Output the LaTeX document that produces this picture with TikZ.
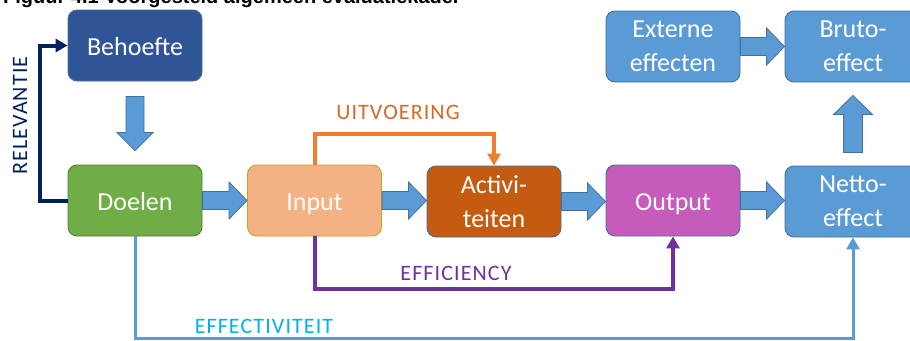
\documentclass[tikz,border=0pt]{standalone}
\usepackage{fontspec}
\setmainfont{Carlito}
\newfontfamily\titlefont{Liberation Sans}
\usetikzlibrary{arrows.meta,calc}
\definecolor{cBehoefte}{HTML}{2F5597}
\definecolor{cDoelen}{HTML}{70AD47}
\definecolor{cDoelenB}{HTML}{548235}
\definecolor{cInput}{HTML}{F4B183}
\definecolor{cInputB}{HTML}{C9A227}
\definecolor{cActiv}{HTML}{C55A11}
\definecolor{cOutput}{HTML}{C65BBB}
\definecolor{cBlue}{HTML}{5B9BD5}
\definecolor{cBlueB}{HTML}{41719C}
\definecolor{cNavy}{HTML}{002060}
\definecolor{cOrange}{HTML}{ED7D31}
\definecolor{cOrangeT}{HTML}{D46A26}
\definecolor{cPurple}{HTML}{7030A0}
\definecolor{cCyan}{HTML}{00B0F0}
\tikzset{
  box/.style={rounded corners=9pt, minimum width=134pt, minimum height=71pt,
    text=white, font=\fontsize{26}{34}\selectfont, align=center,
    line width=0.9pt, inner sep=0pt},
  oneline/.style={text height=20pt, text depth=0pt},
  twoline/.style={yshift=-1pt},
  blk/.style={fill=cBlue, draw=cBlueB, line width=0.75pt},
  lbl/.style={font=\fontsize{22}{26}\selectfont\addfontfeatures{LetterSpace=5}, inner sep=0pt},
  conn/.style={line width=4pt, -{Triangle[width=13pt,length=12pt]}}
}
\newcommand\harr[2]{\path[blk] let \p1=(#1.east), \p2=(#2.west) in
  (\x1,{\y1+9pt}) -- ({\x2-18pt},{\y1+9pt}) -- ({\x2-18pt},{\y1+18.5pt}) -- (\x2,\y1)
  -- ({\x2-18pt},{\y1-18.5pt}) -- ({\x2-18pt},{\y1-9pt}) -- (\x1,{\y1-9pt}) -- cycle;}
\newcommand\darr[2]{\path[blk] let \p1=(#1.south), \p2=(#2.north) in
  ({\x1-9pt},{\y1-15pt}) -- ({\x1-9pt},{\y2+32pt}) -- ({\x1-18pt},{\y2+32pt}) -- (\x1,{\y2+14pt})
  -- ({\x1+18pt},{\y2+32pt}) -- ({\x1+9pt},{\y2+32pt}) -- ({\x1+9pt},{\y1-15pt}) -- cycle;}
\newcommand\uarr[2]{\path[blk] let \p1=(#1.north), \p2=(#2.south) in
  ({\x1-9.5pt},{\y1+13pt}) -- ({\x1-9.5pt},{\y2-32pt}) -- ({\x1-19.5pt},{\y2-32pt}) -- (\x1,{\y2-13pt})
  -- ({\x1+19.5pt},{\y2-32pt}) -- ({\x1+9.5pt},{\y2-32pt}) -- ({\x1+9.5pt},{\y1+13pt}) -- cycle;}
\begin{document}
\begin{tikzpicture}[x=1pt,y=-1pt]
\useasboundingbox (0,0) rectangle (910,340);
\clip (0,0) rectangle (910,340);
\fill[white] (0,0) rectangle (910,340);

\node[anchor=base west, inner sep=0pt, font=\titlefont\bfseries\fontsize{20}{24}\selectfont] (title) at (3,3) {Figuur 4.1 Voorgesteld algemeen evaluatiekader};

\node[box, oneline, fill=cBehoefte, draw=cBlueB] (behoefte) at (135,45.5) {Behoefte};
\node[box, oneline, fill=cDoelen, draw=cDoelenB] (doelen) at (135,200.5) {Doelen};
\node[box, oneline, fill=cInput, draw=cInputB] (input) at (314.5,200.5) {Input};
\node[box, twoline, fill=cActiv, draw=cBlueB] (activ) at (494,200.5) {Activi-\\teiten};
\node[box, oneline, fill=cOutput, draw=cBlueB] (output) at (673,200.5) {Output};
\node[box, twoline, fill=cBlue, draw=cBlueB, minimum width=136pt] (netto) at (853,200.5) {Netto-\\effect};
\node[box, twoline, fill=cBlue, draw=cBlueB] (externe) at (673,45.5) {Externe\\effecten};
\node[box, twoline, fill=cBlue, draw=cBlueB, minimum width=136pt] (bruto) at (853,45.5) {Bruto-\\effect};

\darr{behoefte}{doelen}
\harr{doelen}{input}
\harr{input}{activ}
\harr{activ}{output}
\harr{output}{netto}
\harr{externe}{bruto}
\uarr{netto}{bruto}

\draw[conn, cNavy] (doelen.west) -- ++(-28,0) |- (behoefte.west);
\node[lbl, text=cNavy, rotate=90] (relevantie) at (20,115.5) {RELEVANTIE};

\draw[conn, cOrange] (input.north) -- ++(0,-31) -| (activ.north);
\node[lbl, text=cOrangeT] (uitvoering) at (398,112) {UITVOERING};

\draw[conn, cPurple] (input.south) -- ++(0,53) -| (output.south);
\node[lbl, text=cPurple] (efficiency) at (456,273) {EFFICIENCY};

\draw[conn, cBlue, line width=3pt] (doelen.south) -- ++(0,102) -| (netto.south);
\node[lbl, text=cCyan] (effectiviteit) at (264,326) {EFFECTIVITEIT};
\end{tikzpicture}
\end{document}
